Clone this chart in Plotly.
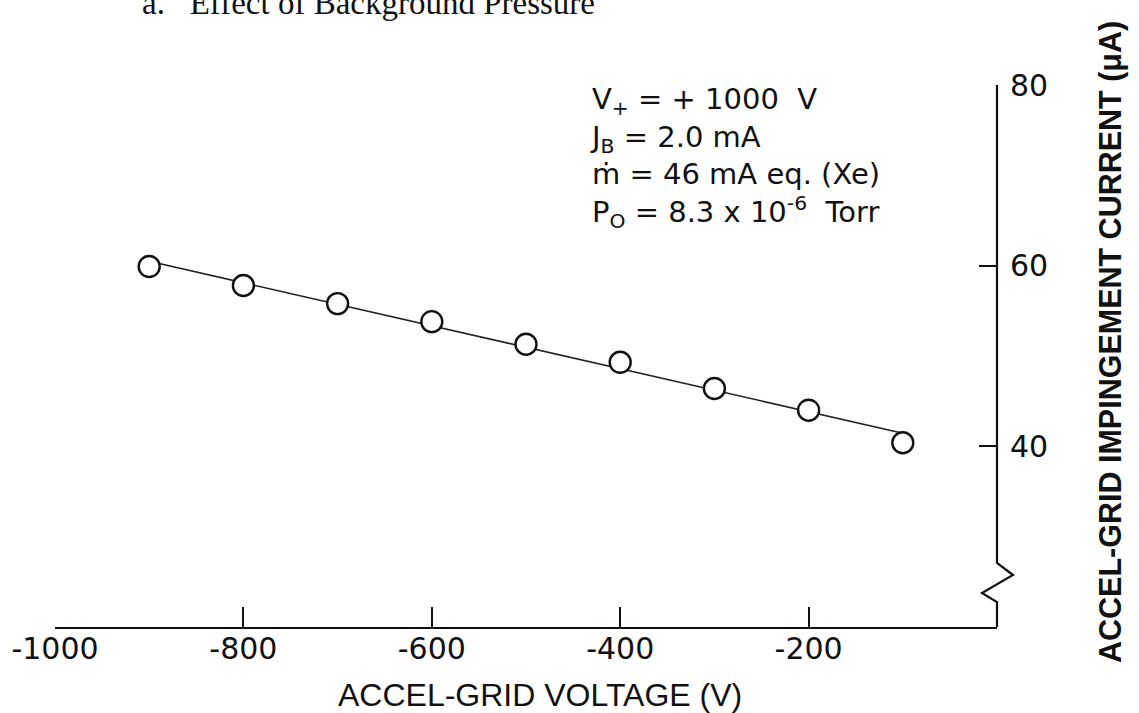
import numpy as np
import plotly.graph_objects as go

# ---- data ----
voltage = [-900, -800, -700, -600, -500, -400, -300, -200, -100]
current = [59.9, 57.8, 55.8, 53.8, 51.3, 49.3, 46.4, 44.0, 40.4]

x_ticks = [-1000, -800, -600, -400, -200]
x_ticktext = ["-1000", "-800", "-600", "-400", "-200"]
y_ticks = [40, 60, 80]
y_ticktext = ["40", "60", "80"]

title_text = "a.\u00a0\u00a0 Effect of Background Pressure"
x_title = "ACCEL-GRID VOLTAGE (V)"
y_title = "ACCEL-GRID IMPINGEMENT CURRENT (\u03bcA)"
info_lines = [
    "V<sub>+</sub> = + 1000  V",
    "J<sub>B</sub> = 2.0 mA",
    "\u1e41 = 46 mA eq. (Xe)",
    "P<sub>O</sub> = 8.3 x 10<sup>-6</sup>  Torr",
]

# linear fit through the measured points (solid line in the figure)
coef = np.polyfit(voltage, current, 1)
fit_x = [voltage[0], voltage[-1]]
fit_y = [float(np.polyval(coef, v)) for v in fit_x]

W, H = 1139, 713
ML, MR, MT, MB = 55, 142, 85, 86
PW, PH = W - ML - MR, H - MT - MB

def px(xp):  # pixel x -> paper x
    return (xp - ML) / PW

def py(yp):  # pixel y -> paper y
    return (H - MB - yp) / PH

SANS = "Liberation Sans, Arial, Helvetica, sans-serif"
WIDE = "DejaVu Sans, Verdana, sans-serif"
SERIF = "Liberation Serif, Times New Roman, serif"

fig = go.Figure()
fig.add_trace(go.Scatter(x=fit_x, y=fit_y, mode="lines",
                         line=dict(color="#222", width=1.6),
                         showlegend=False, hoverinfo="skip"))
fig.add_trace(go.Scatter(x=voltage, y=current, mode="markers",
                         marker=dict(symbol="circle", size=21, color="white",
                                     line=dict(color="#111", width=2.4)),
                         showlegend=False))

# right axis line with break symbol near the bottom
path = (f"M {px(997)} {py(85)} L {px(997)} {py(563)} L {px(1013)} {py(575)} "
        f"L {px(982)} {py(593)} L {px(997)} {py(602)} L {px(997)} {py(627)}")
fig.add_shape(type="path", xref="paper", yref="paper", path=path,
              line=dict(color="#111", width=2.2))

annotations = [
    dict(text=title_text, x=px(140), y=py(23), xref="paper", yref="paper",
         xanchor="left", yanchor="bottom", showarrow=False,
         font=dict(family=SERIF, size=33, color="#111")),
    dict(text=x_title, x=px(540), y=py(695), xref="paper", yref="paper",
         xanchor="center", yanchor="middle", showarrow=False,
         font=dict(family=SANS, size=32, color="#111")),
    dict(text="<b>" + y_title + "</b>", x=px(1110), y=py(342), xref="paper", yref="paper",
         xanchor="center", yanchor="middle", textangle=-90, showarrow=False,
         font=dict(family=SANS, size=30.5, color="#111")),
    dict(text="<br>".join(info_lines), x=px(588), y=py(80), xref="paper", yref="paper",
         xanchor="left", yanchor="top", align="left", showarrow=False,
         font=dict(family=WIDE, size=29, color="#111")),
]

fig.update_layout(
    width=W, height=H,
    margin=dict(l=ML, r=MR, t=MT, b=MB),
    paper_bgcolor="white", plot_bgcolor="white",
    annotations=annotations,
    xaxis=dict(range=[-1000, 0], tickvals=x_ticks, ticktext=x_ticktext,
               ticks="inside", ticklen=20, tickwidth=2, tickcolor="#111",
               showline=True, linecolor="#111", linewidth=2.2,
               showgrid=False, zeroline=False, ticklabelstandoff=-6,
               tickfont=dict(family=WIDE, size=30, color="#111")),
    yaxis=dict(range=[20, 80], tickvals=y_ticks, ticktext=y_ticktext, side="right",
               ticks="inside", ticklen=18, tickwidth=2, tickcolor="#111",
               showline=False, showgrid=False, zeroline=False, ticklabelstandoff=12,
               tickfont=dict(family=WIDE, size=30, color="#111")),
)

fig.write_html("out.html")
